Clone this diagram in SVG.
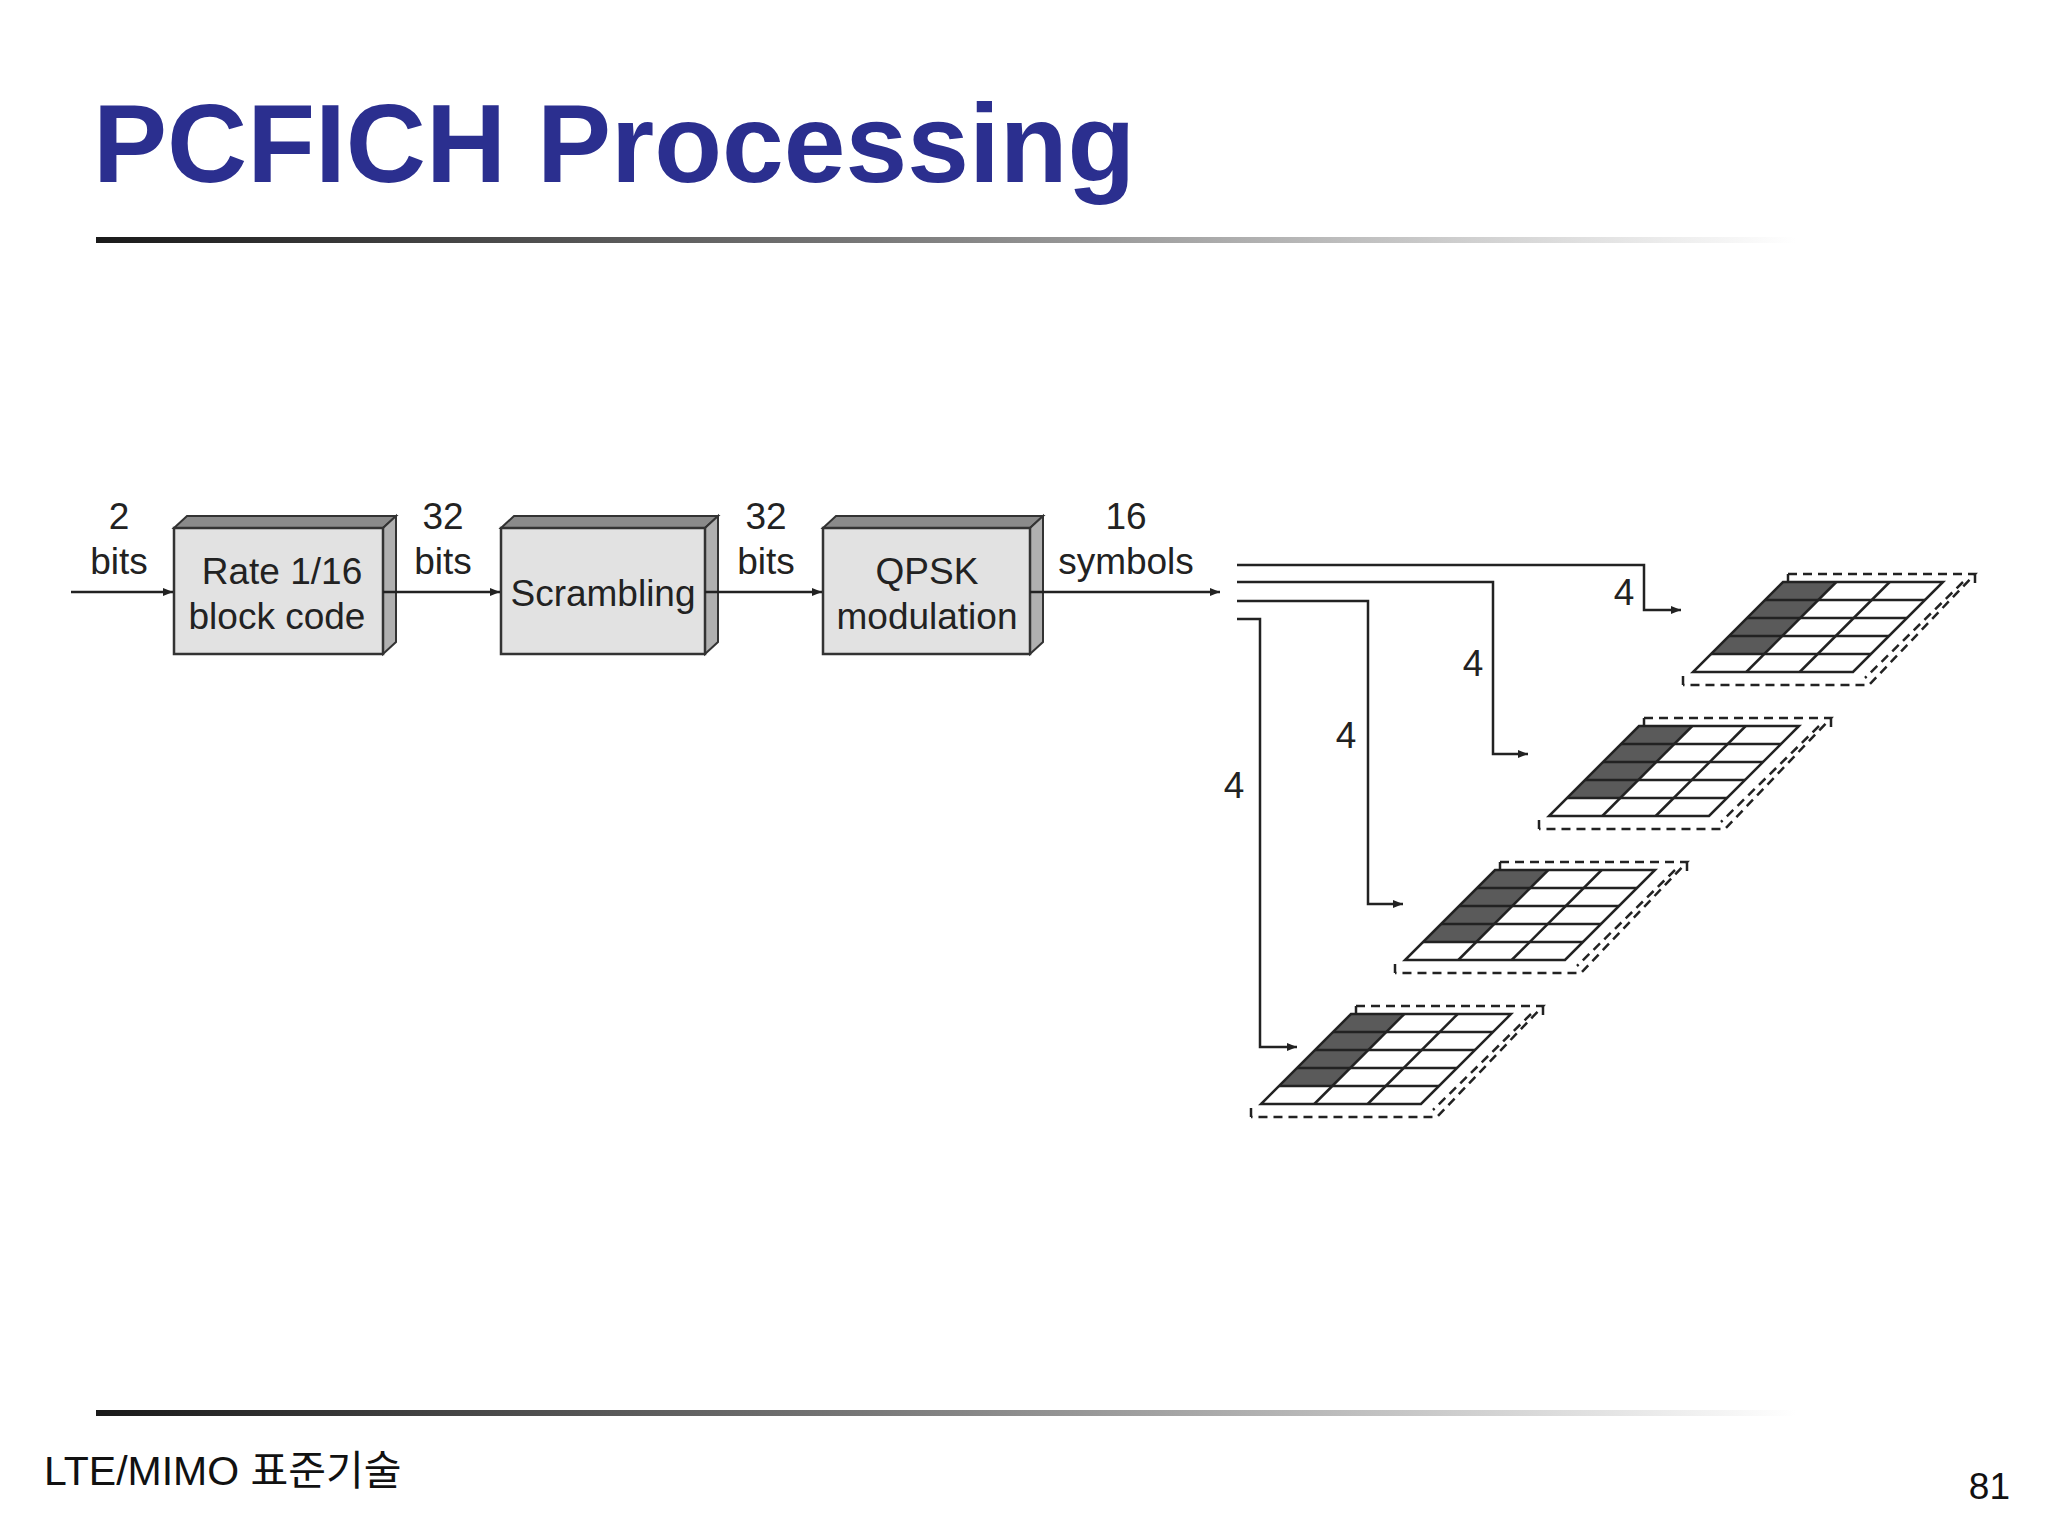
<svg xmlns="http://www.w3.org/2000/svg" width="2048" height="1531" viewBox="0 0 2048 1531">
<defs>
<linearGradient id="rule" x1="0" x2="1" y1="0" y2="0"><stop offset="0" stop-color="#1a1a1a"/><stop offset="0.45" stop-color="#777"/><stop offset="1" stop-color="#fff"/></linearGradient>
<marker id="ah" viewBox="0 0 10 10" refX="10" refY="5" markerWidth="10" markerHeight="10" markerUnits="userSpaceOnUse" orient="auto"><path d="M0,1 L10,5 L0,9 z" fill="#222"/></marker>
<g id="grid">
<g fill="#5a5a5a" stroke="none"><polygon points="18,-18 71.3,-18 143.3,-90 90,-90"/></g>
<g fill="none" stroke="#222" stroke-width="2.5">
<polygon points="0,0 160,0 250,-90 90,-90"/>
<line x1="18" y1="-18" x2="178" y2="-18"/><line x1="36" y1="-36" x2="196" y2="-36"/><line x1="54" y1="-54" x2="214" y2="-54"/><line x1="72" y1="-72" x2="232" y2="-72"/>
<line x1="53.3" y1="0" x2="143.3" y2="-90"/><line x1="106.7" y1="0" x2="196.7" y2="-90"/>
</g>
<g fill="none" stroke="#222" stroke-width="2.5" stroke-dasharray="9,6">
<polyline points="95,-98 282,-98 176,13 -10,13"/>
<line x1="95" y1="-98" x2="95" y2="-90"/>
<line x1="282" y1="-98" x2="282" y2="-88"/>
<line x1="-10" y1="13" x2="-10" y2="4"/>
<line x1="270" y1="-90" x2="172" y2="6"/>
</g>
</g>
</defs>
<style>
.t{font-family:"Liberation Sans",Arial,sans-serif;fill:#222;font-size:37px;text-anchor:middle}
.box .front{fill:#e2e2e2;stroke:#333;stroke-width:2.5}
.box .top{fill:#8a8a8a;stroke:#333;stroke-width:2}
.box .side{fill:#b0b0b0;stroke:#333;stroke-width:2}
.c{fill:none;stroke:#222;stroke-width:2.5}
</style>
<rect width="2048" height="1531" fill="#fff"/>
<text x="93" y="182" font-family="Liberation Sans,Arial,sans-serif" font-weight="bold" font-size="111" fill="#2b2f8f">PCFICH Processing</text>
<rect x="96" y="237" width="1700" height="6" fill="url(#rule)"/>
<rect x="96" y="1410" width="1700" height="6" fill="url(#rule)"/>
<text x="44" y="1485" font-family="Liberation Sans,'Noto Sans CJK KR',sans-serif" font-size="41" fill="#111">LTE/MIMO 표준기술</text>
<text x="2010" y="1499" font-family="Liberation Sans,Arial,sans-serif" font-size="37" fill="#111" text-anchor="end">81</text>

<g id="block-code" class="box" transform="translate(0,-5)"><polygon class="top" points="174,533 187,521 396,521 383,533"/><polygon class="side" points="383,533 396,521 396,647 383,659"/><rect class="front" x="174" y="533" width="209" height="126"/>
<text class="t" x="282" y="589">Rate 1/16</text><text class="t" x="277" y="634">block code</text></g>
<g id="scrambling" class="box" transform="translate(-5,-5)"><polygon class="top" points="506,533 519,521 723,521 710,533"/><polygon class="side" points="710,533 723,521 723,647 710,659"/><rect class="front" x="506" y="533" width="204" height="126"/>
<text class="t" x="608" y="611">Scrambling</text></g>
<g id="qpsk" class="box" transform="translate(-9,-5)"><polygon class="top" points="832,533 845,521 1052,521 1039,533"/><polygon class="side" points="1039,533 1052,521 1052,647 1039,659"/><rect class="front" x="832" y="533" width="207" height="126"/>
<text class="t" x="936" y="589">QPSK</text><text class="t" x="936" y="634">modulation</text></g>

<g id="grid1"><use href="#grid" x="1693" y="672"/></g>
<g id="grid2"><use href="#grid" x="1549" y="816"/></g>
<g id="grid3"><use href="#grid" x="1405" y="960"/></g>
<g id="grid4"><use href="#grid" x="1261" y="1104"/></g>

<g id="connectors">
<line class="c" x1="71" y1="592" x2="173" y2="592" marker-end="url(#ah)"/>
<line class="c" x1="383" y1="592" x2="500" y2="592" marker-end="url(#ah)"/>
<line class="c" x1="705" y1="592" x2="822" y2="592" marker-end="url(#ah)"/>
<line class="c" x1="1030" y1="592" x2="1220" y2="592" marker-end="url(#ah)"/>
<polyline class="c" points="1237,565 1644,565 1644,610 1681,610" marker-end="url(#ah)"/>
<polyline class="c" points="1237,582 1493,582 1493,754 1528,754" marker-end="url(#ah)"/>
<polyline class="c" points="1237,601 1368,601 1368,904 1403,904" marker-end="url(#ah)"/>
<polyline class="c" points="1237,619 1260,619 1260,1047 1297,1047" marker-end="url(#ah)"/>
</g>
<g id="labels">
<text class="t" x="119" y="529">2</text><text class="t" x="119" y="574">bits</text>
<text class="t" x="443" y="529">32</text><text class="t" x="443" y="574">bits</text>
<text class="t" x="766" y="529">32</text><text class="t" x="766" y="574">bits</text>
<text class="t" x="1126" y="529">16</text><text class="t" x="1126" y="574">symbols</text>
<text class="t" x="1624" y="605">4</text>
<text class="t" x="1473" y="676">4</text>
<text class="t" x="1346" y="748">4</text>
<text class="t" x="1234" y="798">4</text>
</g>
</svg>
